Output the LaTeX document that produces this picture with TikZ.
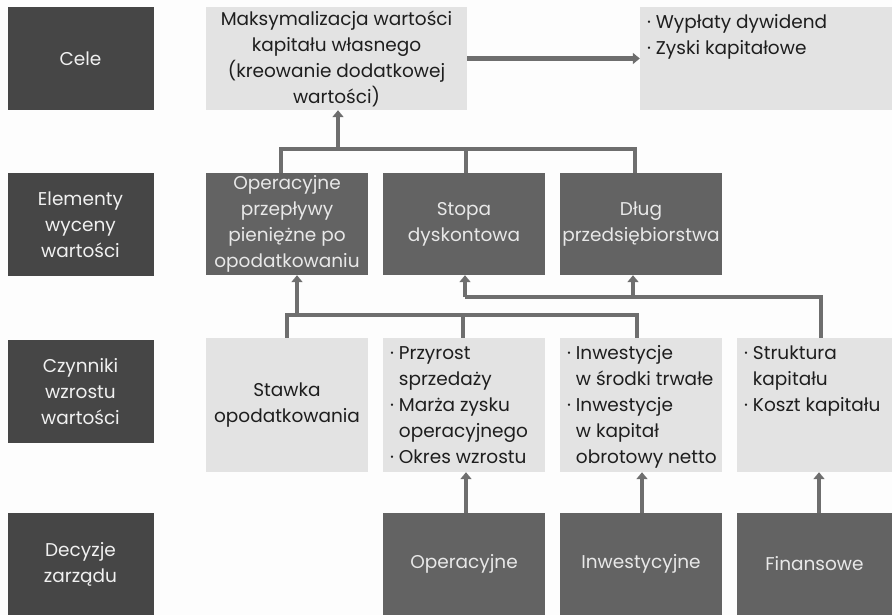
\documentclass[tikz,border=0pt]{standalone}
\usepackage{fontspec}
\setmainfont{Poppins}
\usetikzlibrary{arrows.meta,calc}
\definecolor{pagebg}{HTML}{FDFDFD}
\definecolor{labfill}{HTML}{464646}
\definecolor{labtext}{HTML}{F0F0F0}
\definecolor{midfill}{HTML}{636363}
\definecolor{midtext}{HTML}{E8E8E8}
\definecolor{litefill}{HTML}{E3E3E3}
\definecolor{litetext}{HTML}{1E1E1E}
\definecolor{conncol}{HTML}{6E6E6E}
% top-aligned bullet list inside a box of given height and width
\newcommand\toplist[3]{\parbox[c][#1][t]{#2}{\vspace*{3pt}\hspace*{7pt}\begin{tabular}[t]{@{}l@{\hspace{5pt}}l@{}}#3\end{tabular}}}
\begin{document}
\begin{tikzpicture}[x=1pt,y=-1pt,
  box/.style={rectangle, inner sep=0pt, align=center, font=\fontsize{18.5}{26}\selectfont},
  lab/.style={box, fill=labfill, text=labtext, minimum width=146pt, minimum height=103pt},
  mid/.style={box, fill=midfill, text=midtext, minimum width=162pt, minimum height=102pt},
  lite/.style={box, fill=litefill, text=litetext},
  conn/.style={draw=conncol, line width=4.5pt, line join=miter},
  arr/.style={conn, -{Triangle[width=11pt,length=7pt]}},
]
\fill[pagebg] (0,0) rectangle (892,615);
\useasboundingbox (0,0) rectangle (892,615);

% row labels
\node[lab] (cele) at (80.5,58.5) {Cele};
\node[lab] (elem) at (80.5,224.5) {Elementy\\wyceny\\wartości};
\node[lab] (czyn) at (80.5,391.5) {Czynniki\\wzrostu\\wartości};
\node[lab, minimum height=102pt] (decy) at (80.5,564) {Decyzje\\zarządu};

% goals
\node[lite, minimum width=261pt, minimum height=103pt] (maks) at (336.5,58.5)
  {Maksymalizacja wartości\\kapitału własnego\\(kreowanie dodatkowej\\wartości)};
\node[lite] (wypl) at (766,58.5)
  {\toplist{103pt}{252pt}{· & Wypłaty dywidend\\ · & Zyski kapitałowe}};

% valuation elements
\node[mid] (opf) at (287,224) {Operacyjne\\przepływy\\pieniężne po\\opodatkowaniu};
\node[mid] (stopa) at (464,224) {Stopa\\dyskontowa};
\node[mid] (dlug) at (641,224) {Dług\\przedsiębiorstwa};

% value drivers
\node[lite, minimum width=162pt, minimum height=134pt] (stawka) at (287,405) {Stawka\\opodatkowania};
\node[lite] (przyr) at (464,405)
  {\toplist{134pt}{162pt}{· & Przyrost\\ & sprzedaży\\ · & Marża zysku\\ & operacyjnego\\ · & Okres wzrostu}};
\node[lite] (inwe) at (641,405)
  {\toplist{134pt}{162pt}{· & Inwestycje\\ & w środki trwałe\\ · & Inwestycje\\ & w kapitał\\ & obrotowy netto}};
\node[lite] (strk) at (814.5,405)
  {\toplist{134pt}{155pt}{· & Struktura\\ & kapitału\\ · & Koszt kapitału}};

% management decisions
\node[mid] (dop) at (464,564) {Operacyjne};
\node[mid] (dinw) at (641,564) {Inwestycyjne};
\node[mid, minimum width=155pt] (dfin) at (814.5,564) {Finansowe};

% goal arrow
\draw[arr] (maks.east) -- (wypl.west);

% elements feed the goal
\coordinate (j1) at (338,149);
\draw[conn] ([xshift=-6pt]opf.north) |- (j1) -| ([xshift=-6pt]dlug.north);
\draw[conn] ([xshift=2pt]stopa.north) -- ([xshift=2pt]stopa.north |- j1);
\draw[arr] (j1) -- (maks.south -| j1);

% financing drivers feed discount rate and debt
\coordinate (j2) at (821,297);
\draw[conn] ([xshift=6.5pt]strk.north) |- (j2) -- ([xshift=1pt]stopa.south |- j2);
\draw[arr] ([xshift=1pt]stopa.south |- j2) -- ([xshift=1pt]stopa.south);
\draw[arr] ([xshift=-8pt]dlug.south |- j2) -- ([xshift=-8pt]dlug.south);

% operating drivers feed cash flows
\coordinate (j3) at (297,315);
\draw[conn] (stawka.north) |- (j3) -| ([xshift=-4pt]inwe.north);
\draw[conn] ([xshift=-1pt]przyr.north) -- ([xshift=-1pt]przyr.north |- j3);
\draw[arr] (j3) -- (opf.south -| j3);

% decisions drive the drivers
\draw[arr] ([xshift=2pt]dop.north) -- ([xshift=2pt]przyr.south);
\draw[arr] ([xshift=1pt]dinw.north) -- ([xshift=1pt]inwe.south);
\draw[arr] ([xshift=4.5pt]dfin.north) -- ([xshift=4.5pt]strk.south);
\end{tikzpicture}
\end{document}
